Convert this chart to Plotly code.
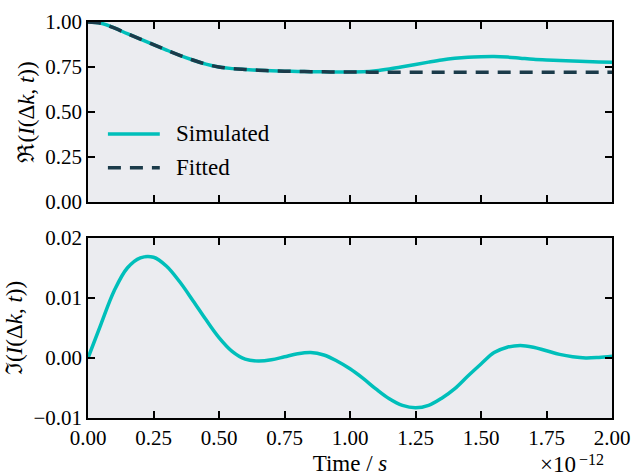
import plotly.graph_objects as go
from plotly.subplots import make_subplots

# Time axis in units of 1e-12 s, sampled every 0.05
t = [round(0.05 * i, 2) for i in range(41)]

re_simulated = [1.000, 0.993, 0.967, 0.935, 0.905, 0.874, 0.844, 0.815, 0.789, 0.766,
                0.750, 0.741, 0.736, 0.732, 0.729, 0.727, 0.725, 0.724, 0.723, 0.722,
                0.722, 0.723, 0.729, 0.739, 0.751, 0.764, 0.777, 0.789, 0.798, 0.804,
                0.807, 0.808, 0.805, 0.799, 0.793, 0.789, 0.786, 0.783, 0.780, 0.778,
                0.776]

re_fitted = [1.000, 0.993, 0.967, 0.935, 0.905, 0.874, 0.844, 0.815, 0.789, 0.766,
             0.750, 0.741, 0.736, 0.732, 0.729, 0.727, 0.725, 0.724, 0.723, 0.722,
             0.722, 0.722, 0.721, 0.721, 0.721, 0.721, 0.721, 0.721, 0.721, 0.721,
             0.721, 0.721, 0.721, 0.721, 0.721, 0.721, 0.721, 0.721, 0.721, 0.721,
             0.721]

im_simulated = [0.0000, 0.0057, 0.0112, 0.0150, 0.0167, 0.0168, 0.0153, 0.0127, 0.0096, 0.0064,
                0.0034, 0.0011, -0.0002, -0.0005, -0.0003, 0.0002, 0.0007, 0.0009, 0.0005, -0.0005,
                -0.0018, -0.0034, -0.0052, -0.0068, -0.0079, -0.0083, -0.0079, -0.0067, -0.0051, -0.0030,
                -0.0010, 0.0009, 0.0018, 0.0021, 0.0018, 0.0012, 0.0006, 0.0002, 0.0000, 0.0001,
                0.0003]

x_ticks = [0.0, 0.25, 0.5, 0.75, 1.0, 1.25, 1.5, 1.75, 2.0]
re_ticks = [0.0, 0.25, 0.5, 0.75, 1.0]
im_ticks = [-0.01, 0.0, 0.01, 0.02]
im_ticktext = ["\u22120.01", "0.00", "0.01", "0.02"]

TEAL = "#00BFBA"
DARK = "#1B3B4A"
BG = "#EBECF0"
FONT = "Liberation Serif, Tinos, Times New Roman, Times, DejaVu Serif, serif"
TICK_FS = 21
LABEL_FS = 23

fig = make_subplots(rows=2, cols=1, vertical_spacing=36 / 396)

fig.add_trace(go.Scatter(x=t, y=re_simulated, mode="lines", name="Simulated",
                         line=dict(color=TEAL, width=3.5, shape="spline", smoothing=1.0)),
              row=1, col=1)
fig.add_trace(go.Scatter(x=t, y=re_fitted, mode="lines", name="Fitted",
                         line=dict(color=DARK, width=3.5, dash="13px,9px",
                                   shape="spline", smoothing=1.0)),
              row=1, col=1)
fig.add_trace(go.Scatter(x=t, y=im_simulated, mode="lines", name="Simulated",
                         showlegend=False,
                         line=dict(color=TEAL, width=3.5, shape="spline", smoothing=1.0)),
              row=2, col=1)

axis_common = dict(showgrid=False, zeroline=False, showline=True, linecolor="black",
                   linewidth=1.6, mirror="allticks", ticks="inside", ticklen=7,
                   tickwidth=1.6, tickcolor="black", automargin=False,
                   tickfont=dict(family=FONT, size=TICK_FS, color="black"))

fig.update_xaxes(range=[0, 2.0], tickvals=x_ticks, **axis_common)
fig.update_xaxes(showticklabels=False, row=1, col=1)
fig.update_xaxes(ticktext=["%.2f" % v for v in x_ticks], row=2, col=1)
fig.update_xaxes(title=dict(text="Time / <i>s</i>",
                            font=dict(family=FONT, size=LABEL_FS, color="black"),
                            standoff=8), row=2, col=1)

fig.update_yaxes(**axis_common)
fig.update_yaxes(range=[0, 1.0], tickvals=re_ticks, ticktext=["%.2f" % v for v in re_ticks],
                 title=dict(text="\u211C(<i>I</i>(\u0394<i>k</i>, <i>t</i>))",
                            font=dict(family=FONT, size=LABEL_FS, color="black"), standoff=4),
                 row=1, col=1)
fig.update_yaxes(range=[-0.01, 0.02], tickvals=im_ticks, ticktext=im_ticktext,
                 title=dict(text="\u2111(<i>I</i>(\u0394<i>k</i>, <i>t</i>))",
                            font=dict(family=FONT, size=LABEL_FS, color="black"), standoff=4),
                 row=2, col=1)

# Legend drawn inside the upper panel
legend_items = [("Simulated", TEAL, "solid", 0.378), ("Fitted", DARK, "13px,9px", 0.19)]
shapes = []
annotations = []
for label, color, dash, ypos in legend_items:
    shapes.append(dict(type="line", xref="x domain", yref="y domain",
                       x0=0.038, x1=0.137, y0=ypos, y1=ypos,
                       line=dict(color=color, width=3.5, dash=dash)))
    annotations.append(dict(xref="x domain", yref="y domain", x=0.164, y=ypos,
                            text=label, showarrow=False, xanchor="left", yanchor="middle",
                            font=dict(family=FONT, size=LABEL_FS, color="black")))

# Scale factor of the time axis: mantissa and exponent set separately
annotations.append(dict(xref="x2 domain", yref="y2 domain", x=0.936, y=-0.258,
                        text="\u00d710", showarrow=False,
                        xanchor="right", yanchor="middle",
                        font=dict(family=FONT, size=LABEL_FS, color="black")))
annotations.append(dict(xref="x2 domain", yref="y2 domain", x=0.934, y=-0.228,
                        text="\u221212", showarrow=False,
                        xanchor="left", yanchor="middle",
                        font=dict(family=FONT, size=16, color="black")))

fig.update_layout(width=631, height=476,
                  margin=dict(l=88, r=19, t=22, b=58),
                  paper_bgcolor="white", plot_bgcolor=BG,
                  showlegend=False, shapes=shapes, annotations=annotations,
                  font=dict(family=FONT, size=TICK_FS, color="black"))

fig.write_html("out.html")
